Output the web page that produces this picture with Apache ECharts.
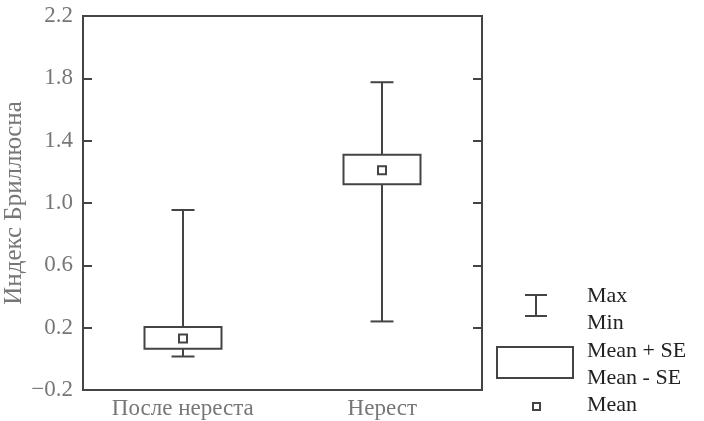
<!DOCTYPE html>
<html>
<head>
<meta charset="utf-8">
<script src="https://cdn.jsdelivr.net/npm/echarts@6/dist/echarts.min.js"></script>
<style>
  html, body { margin: 0; padding: 0; background: #fff; }
  #chart { width: 704px; height: 421px; }
</style>
</head>
<body>
<div id="chart"></div>
<script>
// data
var categories = ['После нереста', 'Нерест'];
var minVals  = [0.015, 0.24];
var loVals   = [0.065, 1.12];   // mean - SE
var meanVals = [0.13, 1.21];
var hiVals   = [0.205, 1.31];   // mean + SE
var maxVals  = [0.955, 1.775];
var yTicks = [-0.2, 0.2, 0.6, 1.0, 1.4, 1.8, 2.2];
var legendLabels = ['Max', 'Min', 'Mean + SE', 'Mean - SE', 'Mean'];

var serif = '"Liberation Serif", "DejaVu Serif", "Times New Roman", serif';
var lineColor = '#444';

var seriesData = categories.map(function (c, i) {
    return [i, minVals[i], loVals[i], meanVals[i], hiVals[i], maxVals[i]];
});

function renderBox(params, api) {
    var x = api.value(0);
    var pMin = api.coord([x, api.value(1)]);
    var pLo = api.coord([x, api.value(2)]);
    var pMean = api.coord([x, api.value(3)]);
    var pHi = api.coord([x, api.value(4)]);
    var pMax = api.coord([x, api.value(5)]);
    var cx = Math.round(pMin[0]);
    var boxW = 77, capW = 23, sq = 8;
    var st = {stroke: lineColor, lineWidth: 2, fill: null};
    return {
        type: 'group',
        children: [
            {type: 'line', shape: {x1: cx, y1: pMax[1], x2: cx, y2: pMin[1]}, style: st},
            {type: 'line', shape: {x1: cx - capW / 2, y1: pMax[1], x2: cx + capW / 2, y2: pMax[1]}, style: st},
            {type: 'line', shape: {x1: cx - capW / 2, y1: pMin[1], x2: cx + capW / 2, y2: pMin[1]}, style: st},
            {type: 'rect', shape: {x: cx - boxW / 2, y: pHi[1], width: boxW, height: pLo[1] - pHi[1]},
                style: {stroke: lineColor, lineWidth: 2, fill: '#fff'}},
            {type: 'rect', shape: {x: cx - sq / 2, y: pMean[1] - sq / 2, width: sq, height: sq},
                style: {stroke: lineColor, lineWidth: 2, fill: '#fff'}}
        ]
    };
}

// hand-drawn key on the right
var keyX = 587, keyY = [296, 323, 351, 378, 405];
var keyGraphics = [
    {type: 'line', shape: {x1: 536, y1: 295, x2: 536, y2: 316}, style: {stroke: lineColor, lineWidth: 2}},
    {type: 'line', shape: {x1: 525, y1: 295, x2: 547, y2: 295}, style: {stroke: lineColor, lineWidth: 2}},
    {type: 'line', shape: {x1: 525, y1: 316, x2: 547, y2: 316}, style: {stroke: lineColor, lineWidth: 2}},
    {type: 'rect', shape: {x: 497, y: 347, width: 76, height: 31}, style: {stroke: lineColor, lineWidth: 2, fill: '#fff'}},
    {type: 'rect', shape: {x: 533, y: 403, width: 7, height: 7}, style: {stroke: lineColor, lineWidth: 2, fill: '#fff'}}
];
legendLabels.forEach(function (t, i) {
    keyGraphics.push({
        type: 'text', x: keyX, y: keyY[i],
        style: {text: t, font: '22px ' + serif, fill: '#222', verticalAlign: 'middle'}
    });
});

var chart = echarts.init(document.getElementById('chart'), null, {renderer: 'canvas'});

var tickCfg = {show: true, inside: true, length: 9, customValues: yTicks, lineStyle: {color: lineColor, width: 2}};

var option = {
    animation: false,
    grid: {
        left: 83, right: 222, top: 16, bottom: 31,
        containLabel: false, outerBoundsMode: 'none',
        show: true, borderColor: lineColor, borderWidth: 2, backgroundColor: 'transparent'
    },
    xAxis: {
        type: 'category',
        data: categories,
        axisLine: {show: false},
        axisTick: {show: false},
        splitLine: {show: false},
        axisLabel: {color: '#777', fontFamily: serif, fontSize: 23, margin: 7}
    },
    yAxis: [{
        type: 'value',
        min: -0.2,
        max: 2.2,
        name: 'Индекс Бриллюсна',
        nameLocation: 'middle',
        nameRotate: 90,
        nameGap: 56,
        nameMoveOverlap: false,
        nameTextStyle: {color: '#777', fontFamily: serif, fontSize: 25},
        axisLine: {show: false},
        axisTick: tickCfg,
        splitLine: {show: false},
        axisLabel: {
            customValues: yTicks,
            color: '#777', fontFamily: serif, fontSize: 23, margin: 10,
            formatter: function (v) { return (v < 0 ? '\u2212' : '') + Math.abs(v).toFixed(1); }
        }
    }, {
        type: 'value',
        position: 'right',
        min: -0.2,
        max: 2.2,
        axisLine: {show: false},
        axisTick: tickCfg,
        splitLine: {show: false},
        axisLabel: {show: false}
    }],
    series: [{
        type: 'custom',
        renderItem: renderBox,
        encode: {x: 0, y: [1, 2, 3, 4, 5]},
        data: seriesData,
        z: 5
    }],
    graphic: keyGraphics
};

chart.setOption(option);
</script>
</body>
</html>
